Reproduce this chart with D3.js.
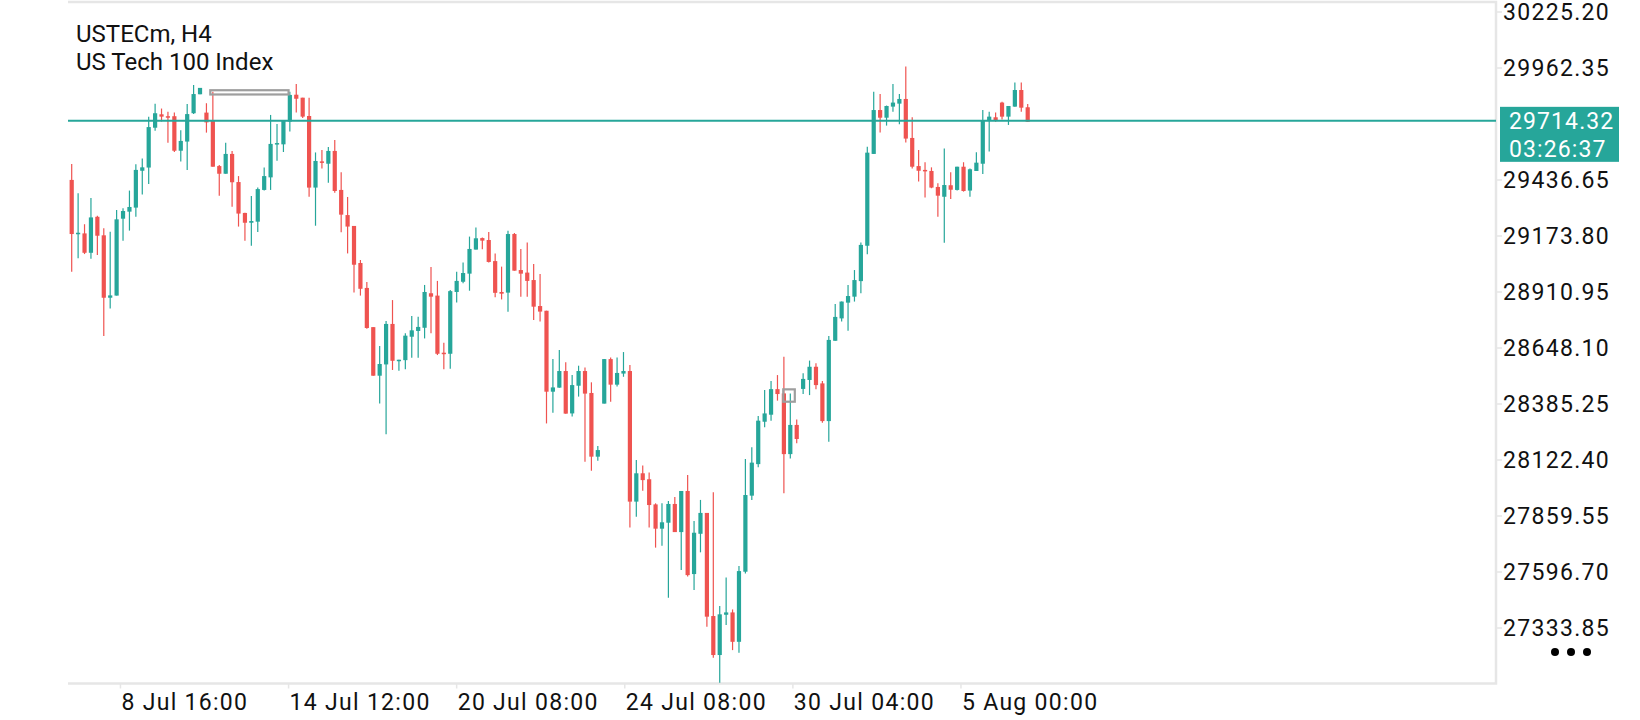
<!DOCTYPE html>
<html>
<head>
<meta charset="utf-8">
<script src="https://cdn.jsdelivr.net/npm/d3@7"></script>
<style>
    html, body { margin: 0; padding: 0; background: #fff; }
    svg { display: block; font-family: Roboto, "Noto Sans", sans-serif; }
</style>
</head>
<body>
<div id="chart"></div>
<script>
'use strict';

const symbolName = "USTECm, H4";
const symbolDesc = "US Tech 100 Index";

const opens = [29437, 29183, 29186, 29095, 29264, 29177, 28884, 28894, 29255, 29288,
    29307, 29480, 29495, 29682, 29745, 29736, 29736, 29574, 29617, 29750,
    29839, 29753, 29715, 29502, 29466, 29559, 29427, 29282, 29236, 29241,
    29390, 29449, 29603, 29604, 29711, 29837, 29823, 29737, 29401, 29524,
    29513, 29573, 29390, 29272, 29221, 29047, 28930, 28746, 28518, 28571,
    28761, 28587, 28591, 28701, 28728, 28743, 28905, 28894, 28626, 28621,
    28911, 28959, 28997, 29110, 29164, 29155, 29056, 28911, 28908, 29183,
    29014, 29002, 28967, 28845, 28823, 28443, 28462, 28540, 28341, 28471,
    28540, 28437, 28138, 28387, 28596, 28476, 28528, 28540, 27927, 28060,
    28032, 27914, 27800, 27828, 27916, 27784, 27977, 27587, 27776, 27874,
    27390, 27207, 27396, 27407, 27269, 27598, 27955, 28103, 28302, 28335,
    28455, 28435, 28150, 28287, 28456, 28498, 28560, 28482, 28305, 28682,
    28787, 28861, 28889, 28962, 29128, 29559, 29765, 29729, 29781, 29795,
    29817, 29634, 29502, 29484, 29479, 29404, 29358, 29412, 29390, 29499,
    29387, 29479, 29513, 29714, 29731, 29800, 29734, 29781, 29859, 29778];

const highs = [29512, 29374, 29229, 29352, 29269, 29210, 29194, 29296, 29304, 29387,
    29510, 29537, 29734, 29795, 29772, 29757, 29753, 29670, 29793, 29883,
    29869, 29797, 29851, 29507, 29612, 29573, 29455, 29283, 29362, 29401,
    29495, 29742, 29700, 29718, 29851, 29887, 29823, 29823, 29566, 29577,
    29592, 29624, 29473, 29357, 29221, 29061, 28958, 28746, 28657, 28775,
    28873, 28593, 28717, 28798, 28795, 28944, 29028, 28963, 28673, 28920,
    29006, 29049, 29171, 29214, 29167, 29193, 29092, 29030, 29199, 29188,
    29113, 29143, 29042, 28995, 28823, 28596, 28639, 28581, 28521, 28565,
    28556, 28487, 28188, 28596, 28603, 28603, 28629, 28568, 28122, 28097,
    28064, 27919, 27919, 27930, 27949, 27977, 28052, 27836, 27935, 27874,
    27971, 27437, 27571, 27421, 27625, 28127, 28182, 28329, 28451, 28493,
    28521, 28607, 28435, 28313, 28529, 28589, 28576, 28493, 28704, 28855,
    28866, 28944, 29014, 29143, 29593, 29851, 29840, 29786, 29887, 29840,
    29969, 29731, 29577, 29520, 29496, 29421, 29585, 29473, 29499, 29520,
    29491, 29567, 29765, 29757, 29753, 29804, 29784, 29894, 29894, 29793];

const lows = [29006, 29069, 29089, 29067, 29085, 28704, 28834, 28894, 29152, 29199,
    29264, 29368, 29418, 29668, 29711, 29612, 29568, 29523, 29484, 29746,
    29839, 29659, 29499, 29363, 29466, 29311, 29218, 29152, 29128, 29193,
    29387, 29390, 29527, 29568, 29664, 29753, 29728, 29358, 29222, 29491,
    29424, 29377, 29191, 29092, 28908, 28894, 28739, 28518, 28388, 28243,
    28545, 28541, 28548, 28602, 28602, 28693, 28717, 28615, 28548, 28551,
    28862, 28952, 28917, 29110, 29111, 29049, 28886, 28876, 28818, 29011,
    28889, 28889, 28780, 28772, 28294, 28344, 28462, 28340, 28326, 28420,
    28114, 28072, 28119, 28387, 28396, 28467, 28513, 27805, 27856, 27978,
    27805, 27711, 27720, 27476, 27784, 27606, 27575, 27512, 27689, 27340,
    27194, 27077, 27348, 27230, 27218, 27590, 27935, 28088, 28276, 28307,
    28401, 27966, 28130, 28201, 28432, 28427, 28454, 28297, 28208, 28682,
    28772, 28729, 28866, 28905, 29088, 29559, 29659, 29692, 29757, 29698,
    29613, 29491, 29429, 29354, 29398, 29264, 29142, 29347, 29387, 29382,
    29358, 29479, 29465, 29570, 29710, 29721, 29695, 29781, 29757, 29710];

const closes = [29183, 29189, 29095, 29261, 29175, 28884, 28895, 29252, 29291, 29310,
    29484, 29496, 29685, 29750, 29734, 29731, 29574, 29620, 29746, 29840,
    29869, 29707, 29499, 29466, 29559, 29426, 29279, 29236, 29244, 29394,
    29455, 29606, 29610, 29718, 29836, 29818, 29734, 29401, 29526, 29518,
    29573, 29385, 29274, 29218, 29039, 28926, 28742, 28518, 28573, 28761,
    28588, 28593, 28706, 28731, 28747, 28911, 28889, 28621, 28621, 28915,
    28963, 29000, 29113, 29163, 29152, 29052, 28907, 28903, 29183, 29011,
    28997, 28963, 28842, 28819, 28443, 28463, 28540, 28340, 28474, 28540,
    28434, 28138, 28169, 28596, 28476, 28531, 28540, 27927, 28060, 28028,
    27911, 27800, 27830, 27916, 27784, 27977, 27582, 27781, 27874, 27387,
    27207, 27398, 27407, 27269, 27601, 27958, 28110, 28307, 28341, 28455,
    28432, 28150, 28287, 28221, 28503, 28560, 28474, 28305, 28686, 28794,
    28866, 28892, 28967, 29132, 29565, 29765, 29729, 29784, 29800, 29817,
    29631, 29499, 29480, 29477, 29401, 29363, 29413, 29391, 29499, 29385,
    29487, 29518, 29714, 29734, 29715, 29734, 29784, 29859, 29776, 29710];

// price axis labels (step 262.85); the one under the price tag is hidden in the app
const priceTicks = ["30225.20", "29962.35", "29436.65", "29173.80", "28910.95",
    "28648.10", "28385.25", "28122.40", "27859.55", "27596.70", "27333.85"];

// time labels and the bar index they sit at
const timeLabels = ["8 Jul 16:00", "14 Jul 12:00", "20 Jul 08:00", "24 Jul 08:00", "30 Jul 04:00", "5 Aug 00:00"];
const timeIndex = [7.6, 33.8, 60, 86.2, 112.4, 138.6];

const lastPrice = 29714.32;
const countdown = "03:26:37";

// drawn rectangles: [fromBar, toBar, lowPrice, highPrice]
const boxes = [
    [21.6, 33.8, 29838, 29858],
    [110.9, 112.7, 28396, 28454]
];

(function (d3) {
    const width = 1640;
    const height = 720;
    const frame = { left: 68, right: 1496, top: 2, bottom: 683.5 };
    const up = "#26a69a";
    const down = "#ef5350";
    const axisGrey = "#e6e6e6";

    const bars = opens.map((o, i) => ({ i: i, o: o, h: highs[i], l: lows[i], c: closes[i] }));

    const xScale = d3.scaleLinear().domain([0, bars.length - 1]).range([71.7, 1027.7]);
    const yScale = d3.scaleLinear().domain([27066.3, 30272.1]).range([685, 2]);

    const svg = d3.select("#chart")
        .append("svg")
        .attr("viewBox", [0, 0, width, height])
        .attr("width", width)
        .attr("height", height);

    // frame (top, right, bottom)
    svg.append("path")
        .attr("d", `M${frame.left},${frame.top}H${frame.right}V${frame.bottom}H${frame.left}`)
        .attr("fill", "none")
        .attr("stroke", axisGrey)
        .attr("stroke-width", 2.5);

    // title
    const title = svg.append("g")
        .attr("fill", "#111")
        .style("font-size", "24px");
    title.append("text").attr("x", 76).attr("y", 42).text(symbolName);
    title.append("text").attr("x", 76).attr("y", 69.5).text(symbolDesc);

    // price axis
    const yAxis = svg.append("g");
    yAxis.selectAll("line")
        .data(priceTicks)
        .join("line")
            .attr("x1", frame.right + 1)
            .attr("x2", frame.right + 6)
            .attr("y1", d => yScale(+d))
            .attr("y2", d => yScale(+d))
            .attr("stroke", axisGrey)
            .attr("stroke-width", 1.5);
    yAxis.selectAll("text")
        .data(priceTicks)
        .join("text")
            .attr("x", 1503)
            .attr("y", d => yScale(+d))
            .attr("dy", "0.36em")
            .attr("fill", "#111")
            .style("font-size", "23px")
            .style("letter-spacing", "1.3px")
            .text(d => d);

    // time axis
    const xAxis = svg.append("g");
    xAxis.selectAll("line")
        .data(timeIndex)
        .join("line")
            .attr("x1", d => xScale(d))
            .attr("x2", d => xScale(d))
            .attr("y1", frame.bottom)
            .attr("y2", frame.bottom + 5)
            .attr("stroke", axisGrey)
            .attr("stroke-width", 1.5);
    xAxis.selectAll("text")
        .data(timeLabels)
        .join("text")
            .attr("x", (d, i) => xScale(timeIndex[i]) + 1)
            .attr("y", 709.5)
            .attr("fill", "#111")
            .style("font-size", "23px")
            .style("letter-spacing", "1.3px")
            .text(d => d);

    // candles
    const candle = svg.append("g")
        .selectAll("g")
        .data(bars)
        .join("g")
            .attr("fill", d => d.c >= d.o ? up : down)
            .attr("stroke", d => d.c >= d.o ? up : down);

    candle.append("line")
        .attr("x1", d => xScale(d.i))
        .attr("x2", d => xScale(d.i))
        .attr("y1", d => yScale(d.h))
        .attr("y2", d => yScale(d.l))
        .attr("stroke-width", 1.2);

    candle.append("rect")
        .attr("stroke", "none")
        .attr("x", d => xScale(d.i) - 2.1)
        .attr("width", 4.2)
        .attr("y", d => yScale(Math.max(d.o, d.c)))
        .attr("height", d => Math.max(1.5, Math.abs(yScale(d.o) - yScale(d.c))));

    // drawn rectangles
    svg.append("g")
        .selectAll("rect")
        .data(boxes)
        .join("rect")
            .attr("x", d => xScale(d[0]))
            .attr("width", d => xScale(d[1]) - xScale(d[0]))
            .attr("y", d => yScale(d[3]))
            .attr("height", d => yScale(d[2]) - yScale(d[3]))
            .attr("fill", "none")
            .attr("stroke", "#9e9e9e")
            .attr("stroke-width", 2.2);

    // last price line and label
    svg.append("line")
        .attr("x1", frame.left)
        .attr("x2", frame.right)
        .attr("y1", yScale(lastPrice))
        .attr("y2", yScale(lastPrice))
        .attr("stroke", up)
        .attr("stroke-width", 2);

    const tag = svg.append("g");
    tag.append("rect")
        .attr("x", 1500)
        .attr("y", yScale(lastPrice) - 14)
        .attr("width", 119)
        .attr("height", 55)
        .attr("fill", up);
    tag.selectAll("text")
        .data([lastPrice.toFixed(2), countdown])
        .join("text")
            .attr("x", 1509)
            .attr("y", (d, i) => yScale(lastPrice) + i * 28)
            .attr("dy", "0.36em")
            .attr("fill", "#fff")
            .style("font-size", "23px")
            .style("letter-spacing", "1.1px")
            .text(d => d);

    // menu dots
    svg.append("g")
        .selectAll("circle")
        .data([0, 1, 2])
        .join("circle")
            .attr("cx", d => 1555 + d * 16)
            .attr("cy", 652)
            .attr("r", 4)
            .attr("fill", "#000");
})(d3);
</script>
</body>
</html>
